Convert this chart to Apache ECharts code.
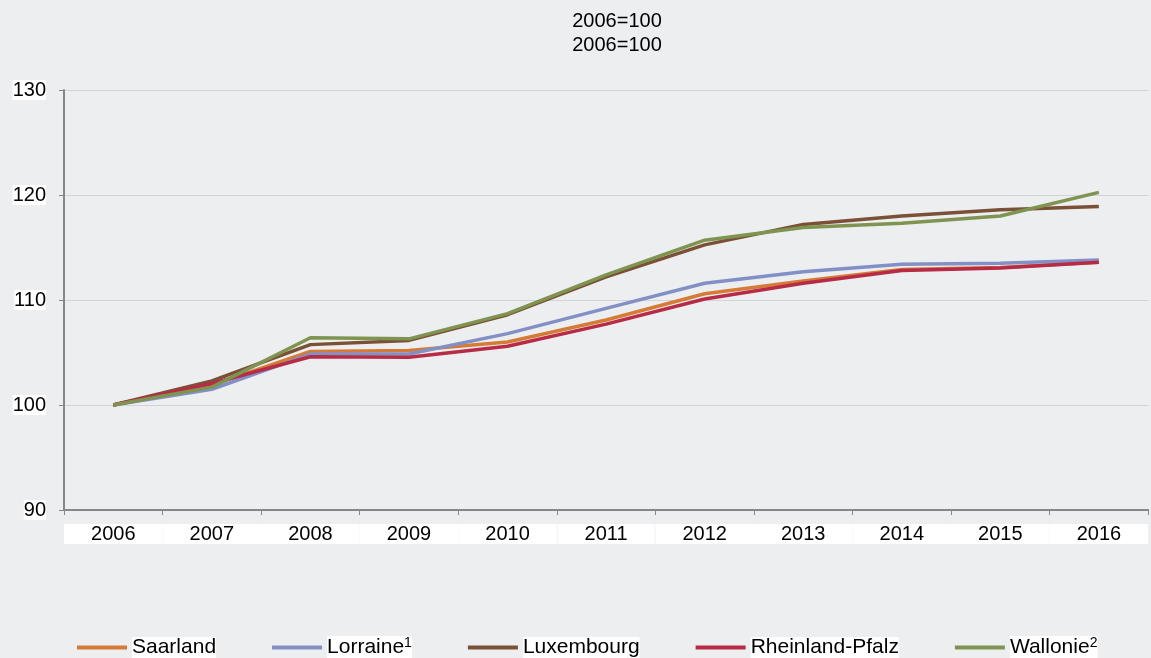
<!DOCTYPE html>
<html>
<head>
<meta charset="utf-8">
<script src="https://cdn.jsdelivr.net/npm/echarts@6/dist/echarts.min.js"></script>
<style>
  html, body { margin: 0; padding: 0; background: #edeef0; }
  #chart { width: 1151px; height: 658px; }
</style>
</head>
<body>
<div id="chart"></div>
<script>
const years = ["2006", "2007", "2008", "2009", "2010", "2011", "2012", "2013", "2014", "2015", "2016"];

const saarland = [100, 101.9, 105.1, 105.2, 106.0, 108.1, 110.6, 111.8, 112.9, 113.1, 113.6];
const lorraine = [100, 101.5, 104.85, 104.85, 106.8, 109.2, 111.6, 112.7, 113.4, 113.5, 113.8];
const luxembourg = [100, 102.3, 105.75, 106.15, 108.6, 112.2, 115.25, 117.2, 118.0, 118.6, 118.9];
const rheinlandPfalz = [100, 102.05, 104.6, 104.55, 105.6, 107.7, 110.1, 111.6, 112.8, 113.05, 113.6];
const wallonie = [100, 101.7, 106.4, 106.3, 108.7, 112.4, 115.7, 116.9, 117.3, 118.0, 120.25];

const yTicks = { min: 90, max: 130, step: 10 };

const font = "'Liberation Sans', Arial, sans-serif";

function line(name, data, color) {
  return {
    name: name,
    type: "line",
    data: data,
    symbol: "none",
    lineStyle: { color: color, width: 3.5 },
    itemStyle: { color: color },
    animation: false,
  };
}

const chart = echarts.init(document.getElementById("chart"));

chart.setOption({
  backgroundColor: "#edeef0",
  textStyle: { fontFamily: font },
  title: {
    text: "2006=100\n2006=100",
    left: 612,
    textAlign: "center",
    top: 4,
    textStyle: {
      fontFamily: font,
      fontSize: 20,
      fontWeight: "normal",
      color: "#000",
      lineHeight: 24,
      backgroundColor: "#fff",
    },
  },
  grid: { left: 64, right: 0, top: 90, bottom: 148, containLabel: false },
  legend: {
    top: 631,
    left: 72,
    icon: "rect",
    itemWidth: 50,
    itemHeight: 4,
    itemGap: 56,
    textStyle: {
      fontFamily: font,
      fontSize: 21,
      color: "#000",
      backgroundColor: "#fff",
      rich: {
        s: { fontSize: 14, padding: [0, 0, 9, 0], backgroundColor: "#fff", fontFamily: font, color: "#000" },
      },
    },
    formatter: function (name) {
      if (name === "Lorraine") return "Lorraine{s|1}";
      if (name === "Wallonie") return "Wallonie{s|2}";
      return name;
    },
    data: ["Saarland", "Lorraine", "Luxembourg", "Rheinland-Pfalz", "Wallonie"],
  },
  xAxis: {
    type: "category",
    data: years,
    boundaryGap: true,
    axisLine: { lineStyle: { color: "#878787", width: 2 } },
    axisTick: { show: true, length: 5, lineStyle: { color: "#878787", width: 1 } },
    axisLabel: {
      fontFamily: font,
      fontSize: 20,
      color: "#000",
      margin: 14,
      backgroundColor: "#fff",
      padding: [0, 27, 0, 27],
    },
  },
  yAxis: {
    type: "value",
    min: yTicks.min,
    max: yTicks.max,
    interval: yTicks.step,
    axisLine: { show: true, lineStyle: { color: "#878787", width: 2 } },
    axisTick: { show: true, length: 5, lineStyle: { color: "#878787", width: 1 } },
    splitLine: { lineStyle: { color: "#d2d3d6", width: 1 } },
    axisLabel: {
      fontFamily: font,
      fontSize: 20,
      color: "#000",
      margin: 18,
      backgroundColor: "#fff",
    },
  },
  series: [
    line("Saarland", saarland, "#d57b36"),
    line("Lorraine", lorraine, "#8290c5"),
    line("Luxembourg", luxembourg, "#7a5136"),
    line("Rheinland-Pfalz", rheinlandPfalz, "#b82b46"),
    line("Wallonie", wallonie, "#7f9450"),
  ],
});
</script>
</body>
</html>
